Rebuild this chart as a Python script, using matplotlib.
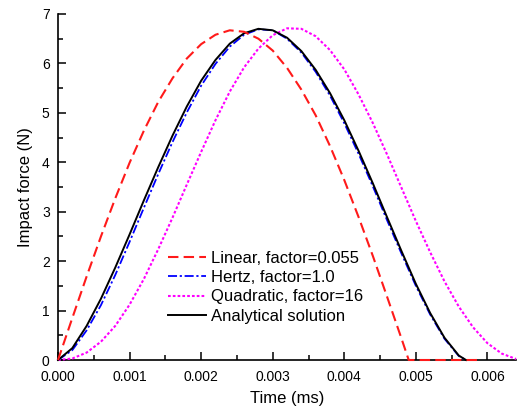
import numpy as np
import matplotlib.pyplot as plt
from matplotlib.ticker import MultipleLocator, FormatStrFormatter

plt.rcParams['font.family'] = ['Liberation Sans', 'DejaVu Sans']

# values
t_lin = [0, 0.0002, 0.0004, 0.0006, 0.0008, 0.0010, 0.0012, 0.0014, 0.0016,
         0.0018, 0.0020, 0.0022, 0.0024, 0.0026, 0.0028, 0.0030, 0.0032,
         0.0034, 0.0036, 0.0038, 0.0040, 0.0042, 0.0044, 0.0046, 0.0048,
         0.0049, 0.0059]
f_lin = [0, 0.85, 1.69, 2.50, 3.27, 3.99, 4.64, 5.22, 5.70, 6.10, 6.39, 6.58,
         6.67, 6.64, 6.50, 6.26, 5.91, 5.47, 4.95, 4.33, 3.64, 2.89, 2.10,
         1.27, 0.43, 0, 0]

t_hz = [0, 0.0002, 0.0004, 0.0006, 0.0008, 0.0010, 0.0012, 0.0014, 0.0016,
        0.0018, 0.0020, 0.0022, 0.0024, 0.0026, 0.0028, 0.0030, 0.0032,
        0.0034, 0.0036, 0.0038, 0.0040, 0.0042, 0.0044, 0.0046, 0.0048,
        0.0050, 0.0052, 0.0054, 0.0056, 0.0057]
f_hertz = [0, 0.20, 0.60, 1.11, 1.72, 2.39, 3.08, 3.76, 4.41, 5.01, 5.55,
           5.99, 6.34, 6.58, 6.69, 6.67, 6.50, 6.22, 5.83, 5.35, 4.79, 4.17,
           3.51, 2.82, 2.15, 1.50, 0.92, 0.43, 0.08, 0]
f_ana = [0, 0.24, 0.69, 1.24, 1.87, 2.54, 3.23, 3.90, 4.54, 5.13, 5.65,
         6.07, 6.40, 6.61, 6.70, 6.67, 6.52, 6.25, 5.87, 5.40, 4.85, 4.23,
         3.57, 2.88, 2.20, 1.54, 0.95, 0.45, 0.09, 0]

t_quad = [0, 0.0002, 0.0004, 0.0006, 0.0008, 0.0010, 0.0012, 0.0014, 0.0016,
          0.0018, 0.0020, 0.0022, 0.0024, 0.0026, 0.0028, 0.0030, 0.0032,
          0.0034, 0.0036, 0.0038, 0.0040, 0.0042, 0.0044, 0.0046, 0.0048,
          0.0050, 0.0052, 0.0054, 0.0056, 0.0058, 0.0060, 0.0062, 0.0064]
f_quad = [0, 0.03, 0.15, 0.37, 0.69, 1.12, 1.64, 2.24, 2.88, 3.55, 4.21,
          4.85, 5.43, 5.92, 6.30, 6.57, 6.71, 6.70, 6.55, 6.27, 5.88, 5.37,
          4.79, 4.15, 3.48, 2.81, 2.18, 1.59, 1.08, 0.66, 0.34, 0.13, 0.02]

labels = ['Linear, factor=0.055', 'Hertz, factor=1.0',
          'Quadratic, factor=16', 'Analytical solution']

fig = plt.figure(figsize=(5.17, 4.09), dpi=100)
ax = fig.add_axes([0.1122, 0.1198, 0.886, 0.846])

ax.plot(t_lin, f_lin, color='#ff1a1a', lw=1.5, dashes=(5, 2.5),
        label=labels[0], clip_on=False, zorder=4)
ax.plot(t_hz, f_hertz, color='#0000ff', lw=1.3, dashes=(5, 1.5, 1.2, 1.5),
        label=labels[1], clip_on=False, zorder=3)
ax.plot(t_quad, f_quad, color='#ff00ff', lw=1.5, dashes=(1.3, 1),
        label=labels[2], clip_on=False, zorder=3)
ax.plot(t_hz, f_ana, color='black', lw=1.4, label=labels[3],
        clip_on=False, zorder=3)

ax.set_xlim(0, 0.0064)
ax.set_ylim(0, 7)
ax.xaxis.set_major_locator(MultipleLocator(0.001))
ax.xaxis.set_minor_locator(MultipleLocator(0.0005))
ax.xaxis.set_major_formatter(FormatStrFormatter('%.3f'))
ax.yaxis.set_major_locator(MultipleLocator(1))
ax.yaxis.set_minor_locator(MultipleLocator(0.5))

for s in ['top', 'right']:
    ax.spines[s].set_visible(False)
for s in ['left', 'bottom']:
    ax.spines[s].set_linewidth(1.2)
ax.tick_params(which='major', direction='in', length=6, width=1.1,
               labelsize=10)
ax.tick_params(axis='x', which='major', pad=7)
ax.tick_params(axis='y', which='major', pad=6)
ax.tick_params(which='minor', direction='in', length=3.5, width=1.1)

ax.set_xlabel('Time (ms)', fontsize=12, labelpad=5)
ax.set_ylabel('Impact force (N)', fontsize=12, labelpad=6)

ax.legend(frameon=False, loc='upper left', bbox_to_anchor=(0.24, 0.315),
          borderpad=0, borderaxespad=0, fontsize=12, handlelength=2.3,
          handletextpad=0.3, labelspacing=0.25)

fig.savefig('out.png', dpi=100)
